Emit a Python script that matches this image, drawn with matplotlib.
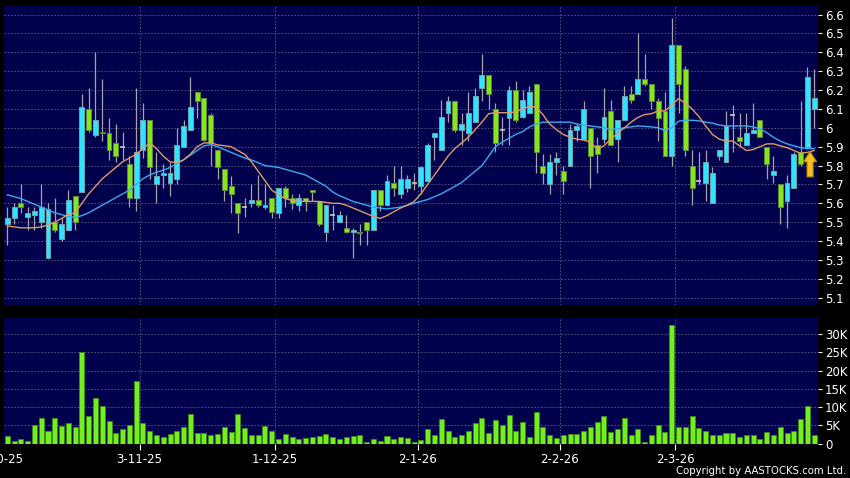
import matplotlib
matplotlib.use('Agg')
import matplotlib.pyplot as plt
from matplotlib.patches import Rectangle, FancyArrow

plt.rcParams.update({
    'font.family': 'DejaVu Sans', 'font.size': 8.5,
    'axes.linewidth': 0, 'savefig.facecolor': 'black',
})

# daily OHLC (120 sessions, Oct-25 .. Mar-26)
opens = [5.49, 5.52, 5.60, 5.53, 5.54, 5.50, 5.31, 5.50, 5.41, 5.46,
         5.64, 5.66, 6.10, 5.96, 5.98, 5.97, 5.92, 5.90, 5.81, 5.63,
         5.88, 6.04, 5.70, 5.75, 5.71, 5.73, 5.90, 5.99, 6.19, 6.16,
         6.07, 5.88, 5.78, 5.69, 5.60, 5.58, 5.60, 5.62, 5.58, 5.63,
         5.55, 5.68, 5.63, 5.59, 5.63, 5.67, 5.61, 5.45, 5.54, 5.50,
         5.47, 5.45, 5.45, 5.50, 5.46, 5.67, 5.59, 5.71, 5.65, 5.68,
         5.71, 5.69, 5.72, 5.95, 5.88, 6.08, 6.14, 5.99, 5.97, 6.03,
         6.21, 6.28, 6.10, 5.99, 6.05, 6.20, 6.06, 6.08, 6.23, 5.80,
         5.70, 5.82, 5.77, 5.80, 5.99, 5.94, 6.00, 5.91, 5.94, 6.09,
         5.94, 6.04, 6.18, 6.18, 6.26, 6.23, 6.14, 6.09, 5.85, 6.44,
         6.31, 5.80, 5.72, 5.71, 5.60, 5.85, 5.82, 6.07, 5.95, 5.91,
         5.97, 6.04, 5.90, 5.75, 5.70, 5.61, 5.68, 5.87, 5.90, 6.10]
highs = [5.58, 5.60, 5.70, 5.58, 5.58, 5.70, 5.60, 5.63, 5.52, 5.67,
         5.64, 6.18, 6.21, 6.40, 6.26, 6.05, 6.02, 5.98, 5.85, 6.21,
         6.13, 6.04, 5.87, 5.81, 5.82, 6.00, 6.04, 6.27, 6.19, 6.16,
         6.08, 5.89, 5.78, 5.745, 5.60, 5.63, 5.70, 5.75, 5.70, 5.63,
         5.68, 5.69, 5.65, 5.65, 5.63, 5.67, 5.61, 5.59, 5.59, 5.56,
         5.54, 5.47, 5.49, 5.50, 5.67, 5.67, 5.75, 5.80, 5.80, 5.75,
         5.76, 5.80, 5.92, 5.97, 6.15, 6.17, 6.14, 6.08, 6.19, 6.21,
         6.39, 6.28, 6.13, 6.06, 6.22, 6.25, 6.20, 6.22, 6.23, 5.86,
         5.86, 5.87, 5.80, 6.02, 6.02, 6.14, 6.00, 5.95, 6.21, 6.15,
         6.04, 6.22, 6.22, 6.50, 6.39, 6.23, 6.16, 6.19, 6.58, 6.44,
         6.33, 5.88, 5.87, 5.88, 5.79, 5.88, 6.09, 6.12, 6.08, 6.08,
         6.13, 6.04, 5.90, 5.85, 5.70, 5.75, 5.87, 6.14, 6.32, 6.31]
lows = [5.38, 5.49, 5.55, 5.46, 5.46, 5.47, 5.31, 5.45, 5.40, 5.46,
        5.46, 5.66, 5.98, 5.95, 5.93, 5.83, 5.82, 5.83, 5.58, 5.56,
        5.84, 5.73, 5.60, 5.68, 5.64, 5.70, 5.90, 5.99, 6.05, 5.93,
        5.80, 5.73, 5.61, 5.55, 5.44, 5.53, 5.58, 5.58, 5.57, 5.52,
        5.52, 5.58, 5.57, 5.56, 5.56, 5.61, 5.48, 5.40, 5.46, 5.50,
        5.44, 5.31, 5.38, 5.38, 5.46, 5.56, 5.59, 5.64, 5.63, 5.66,
        5.67, 5.65, 5.72, 5.83, 5.88, 6.03, 5.98, 5.91, 5.93, 6.03,
        6.14, 6.10, 5.87, 5.91, 5.91, 6.03, 6.05, 6.08, 5.76, 5.70,
        5.65, 5.75, 5.65, 5.80, 5.93, 5.94, 5.68, 5.76, 5.92, 5.91,
        5.82, 6.04, 6.13, 6.18, 6.22, 6.10, 5.93, 5.85, 5.80, 6.08,
        5.85, 5.59, 5.70, 5.61, 5.60, 5.83, 5.82, 5.87, 5.90, 5.91,
        5.97, 5.95, 5.73, 5.71, 5.49, 5.47, 5.68, 5.80, 5.89, 6.00]
closes = [5.52, 5.58, 5.58, 5.55, 5.56, 5.58, 5.57, 5.46, 5.49, 5.62,
          5.50, 6.11, 5.99, 6.04, 5.97, 5.88, 5.85, 5.90, 5.63, 5.87,
          6.04, 5.79, 5.745, 5.76, 5.76, 5.91, 6.01, 6.11, 6.14, 5.935,
          5.92, 5.79, 5.67, 5.65, 5.55, 5.58, 5.62, 5.59, 5.59, 5.555,
          5.68, 5.63, 5.60, 5.63, 5.61, 5.66, 5.49, 5.59, 5.54, 5.54,
          5.45, 5.46, 5.44, 5.46, 5.67, 5.59, 5.72, 5.68, 5.73, 5.73,
          5.71, 5.79, 5.91, 5.97, 6.06, 6.14, 5.99, 6.02, 6.08, 6.17,
          6.28, 6.18, 5.92, 5.99, 6.20, 6.04, 6.15, 6.19, 5.87, 5.76,
          5.82, 5.84, 5.72, 5.99, 6.01, 6.10, 5.85, 5.86, 6.06, 5.91,
          6.04, 6.17, 6.15, 6.26, 6.23, 6.14, 6.05, 5.85, 6.44, 6.23,
          5.88, 5.68, 5.72, 5.82, 5.76, 5.88, 6.01, 6.07, 5.93, 5.97,
          5.99, 5.95, 5.81, 5.77, 5.58, 5.71, 5.86, 5.81, 6.27, 6.16]

# moving averages as drawn (orange = short, blue = long)
ma_short = [5.48, 5.475, 5.47, 5.47, 5.47, 5.475, 5.485, 5.50, 5.52, 5.54,
            5.55, 5.60, 5.65, 5.69, 5.73, 5.76, 5.79, 5.82, 5.84, 5.86,
            5.89, 5.92, 5.89, 5.85, 5.82, 5.815, 5.83, 5.86, 5.90, 5.92,
            5.92, 5.91, 5.905, 5.90, 5.88, 5.86, 5.82, 5.77, 5.72, 5.67,
            5.645, 5.625, 5.615, 5.61, 5.61, 5.61, 5.61, 5.605, 5.60, 5.60,
            5.59, 5.575, 5.56, 5.545, 5.53, 5.52, 5.535, 5.555, 5.575, 5.59,
            5.61, 5.65, 5.70, 5.75, 5.80, 5.85, 5.89, 5.92, 5.95, 5.99,
            6.03, 6.075, 6.08, 6.08, 6.08, 6.085, 6.10, 6.115, 6.11, 6.07,
            6.02, 5.99, 5.965, 5.95, 5.94, 5.935, 5.925, 5.885, 5.905, 5.94,
            5.97, 6.00, 6.03, 6.055, 6.07, 6.075, 6.09, 6.09, 6.12, 6.155,
            6.13, 6.10, 6.06, 6.01, 5.965, 5.94, 5.93, 5.93, 5.905, 5.88,
            5.885, 5.90, 5.915, 5.915, 5.905, 5.895, 5.88, 5.865, 5.87, 5.88]
ma_long = [5.645, 5.635, 5.625, 5.61, 5.595, 5.58, 5.565, 5.55, 5.54, 5.53,
           5.525, 5.535, 5.55, 5.57, 5.59, 5.61, 5.63, 5.65, 5.67, 5.70,
           5.73, 5.75, 5.765, 5.775, 5.79, 5.81, 5.83, 5.855, 5.88, 5.905,
           5.91, 5.90, 5.885, 5.87, 5.855, 5.84, 5.83, 5.815, 5.80, 5.795,
           5.79, 5.78, 5.77, 5.76, 5.75, 5.73, 5.71, 5.69, 5.66, 5.64,
           5.625, 5.61, 5.60, 5.59, 5.58, 5.575, 5.57, 5.575, 5.58, 5.59,
           5.60, 5.61, 5.62, 5.635, 5.65, 5.67, 5.69, 5.71, 5.74, 5.77,
           5.80, 5.85, 5.90, 5.925, 5.945, 5.965, 5.98, 6.005, 6.02, 6.03,
           6.03, 6.03, 6.03, 6.03, 6.02, 6.015, 6.01, 6.005, 6.00, 5.99,
           5.995, 6.00, 6.005, 6.01, 6.008, 6.005, 6.00, 5.985, 6.00, 6.035,
           6.04, 6.04, 6.037, 6.03, 6.025, 6.015, 6.01, 6.01, 6.01, 6.01,
           6.005, 5.995, 5.975, 5.95, 5.93, 5.915, 5.905, 5.895, 5.89, 5.89]

# volume in thousands of shares
volumes = [2.1, 0.8, 1.4, 0.8, 5.0, 7.1, 3.6, 6.9, 4.9, 5.6,
           4.5, 25.1, 7.6, 12.6, 10.4, 6.1, 3.0, 3.9, 5.1, 17.1,
           5.65, 3.4, 2.4, 1.7, 2.6, 3.6, 4.5, 8.0, 2.8, 2.8,
           2.3, 2.6, 4.6, 3.1, 8.2, 4.3, 2.4, 2.4, 4.8, 3.4,
           1.4, 2.7, 1.8, 1.3, 1.5, 1.8, 2.0, 2.6, 1.8, 1.3,
           1.7, 2.1, 2.3, 0.4, 1.3, 0.7, 2.0, 1.3, 1.7, 1.6,
           0.6, 1.1, 4.1, 2.3, 6.7, 3.6, 1.7, 2.4, 3.5, 5.7,
           6.9, 2.9, 6.6, 5.1, 7.9, 3.6, 5.9, 1.8, 8.6, 4.6,
           2.4, 1.5, 2.5, 2.6, 2.7, 3.6, 4.7, 5.9, 7.7, 3.2,
           4.0, 7.0, 2.4, 4.1, 0.4, 2.4, 5.0, 3.1, 32.5, 4.7,
           4.6, 7.7, 4.3, 3.5, 2.3, 2.3, 3.0, 2.9, 1.8, 2.3,
           2.3, 1.3, 3.3, 2.3, 4.6, 2.8, 3.6, 6.7, 10.2, 2.5]

date_labels = ['2-10-25', '3-11-25', '1-12-25', '2-1-26', '2-2-26', '2-3-26']
date_pos = [-1, 19.5, 39.5, 60.5, 81.5, 98.5]
price_ticks = [5.1, 5.2, 5.3, 5.4, 5.5, 5.6, 5.7, 5.8, 5.9, 6.0,
               6.1, 6.2, 6.3, 6.4, 6.5, 6.6]
vol_ticks = [0, 5, 10, 15, 20, 25, 30]
vol_labels = ['0', '5K', '10K', '15K', '20K', '25K', '30K']

PANEL_BG = '#00004c'
GRID = '#5c5c88'
UP_FILL, UP_EDGE = '#2fe4ff', '#6aa6b4'
DN_FILL, DN_EDGE = '#86e61e', '#5d8a3a'
WICK = '#a4a4a8'
VOL_FILL, VOL_EDGE = '#72f01e', '#3f8c14'
MA_S, MA_L = '#e09a6a', '#3aaaf0'
W, H = 850, 478
XLIM = (-0.49, 119.57)


def style_panel(ax):
    ax.set_facecolor(PANEL_BG)
    for s in ax.spines.values():
        s.set_visible(False)
    ax.grid(True, color=GRID, linestyle=(0, (2, 2)), linewidth=0.6)
    ax.set_axisbelow(True)
    ax.yaxis.tick_right()
    ax.tick_params(axis='y', length=3, width=0.8, color='white', labelcolor='white', pad=2)
    ax.set_xticks(date_pos[1:])
    ax.set_xlim(*XLIM)


def draw_candles(ax):
    n = len(closes)
    ax.vlines(range(n), lows, highs, color=WICK, linewidth=0.9, zorder=2)
    for i in range(n):
        o, c = opens[i], closes[i]
        if abs(c - o) < 1e-9:
            ax.hlines(c, i - 0.36, i + 0.36, color='#c8c8c8', linewidth=1.2, zorder=3)
            continue
        up = c > o
        ax.add_patch(Rectangle((i - 0.36, min(o, c)), 0.72, abs(c - o),
                               facecolor=UP_FILL if up else DN_FILL,
                               edgecolor=UP_EDGE if up else DN_EDGE,
                               linewidth=0.7, zorder=3))
    ax.plot(range(n), ma_long, color=MA_L, linewidth=1.0, zorder=4)
    ax.plot(range(n), ma_short, color=MA_S, linewidth=1.0, zorder=4)

    # signal arrow under the last sessions
    tip = ma_long[-1] - 0.015
    ax.add_patch(FancyArrow(n - 1.6, tip - 0.135, 0, 0.135, width=0.9,
                            head_width=1.9, head_length=0.055,
                            length_includes_head=True, facecolor='#f7c21b',
                            edgecolor='#c07f00', linewidth=0.8, zorder=5))


def main():
    fig = plt.figure(figsize=(W / 100, H / 100), dpi=100, facecolor='black')
    ax = fig.add_axes([4 / W, 1 - 305 / H, 814 / W, 300 / H])
    axv = fig.add_axes([4 / W, 1 - 443.7 / H, 814 / W, 125.4 / H])

    style_panel(ax)
    ax.set_ylim(5.061, 6.651)
    ax.set_yticks(price_ticks)
    ax.set_yticklabels([f'{v:g}' for v in price_ticks])
    ax.tick_params(axis='x', length=0, labelbottom=False)
    draw_candles(ax)

    style_panel(axv)
    axv.bar(range(len(volumes)), volumes, width=0.74, color=VOL_FILL,
            edgecolor=VOL_EDGE, linewidth=0.6, zorder=3)
    axv.set_ylim(0, 34.3)
    axv.set_yticks(vol_ticks)
    axv.set_yticklabels(vol_labels)
    axv.set_xticklabels(date_labels[1:])
    axv.tick_params(axis='x', length=4, width=0.8, color='white', labelcolor='white', pad=3)
    # first month label sits left of the plot edge and is cut by the figure
    axv.annotate(date_labels[0], xy=(date_pos[0], 0), xycoords=('data', 'axes fraction'),
                 xytext=(0, -7), textcoords='offset points', ha='center', va='top',
                 color='white', fontsize=8.5, annotation_clip=False)

    fig.text(846 / W, 1 - 471.5 / H, 'Copyright by AASTOCKS.com Ltd.',
             ha='right', va='center', color='white', fontsize=7.3)

    fig.savefig('out.png', dpi=100, facecolor='black')
    plt.close(fig)


if __name__ == '__main__':
    main()
